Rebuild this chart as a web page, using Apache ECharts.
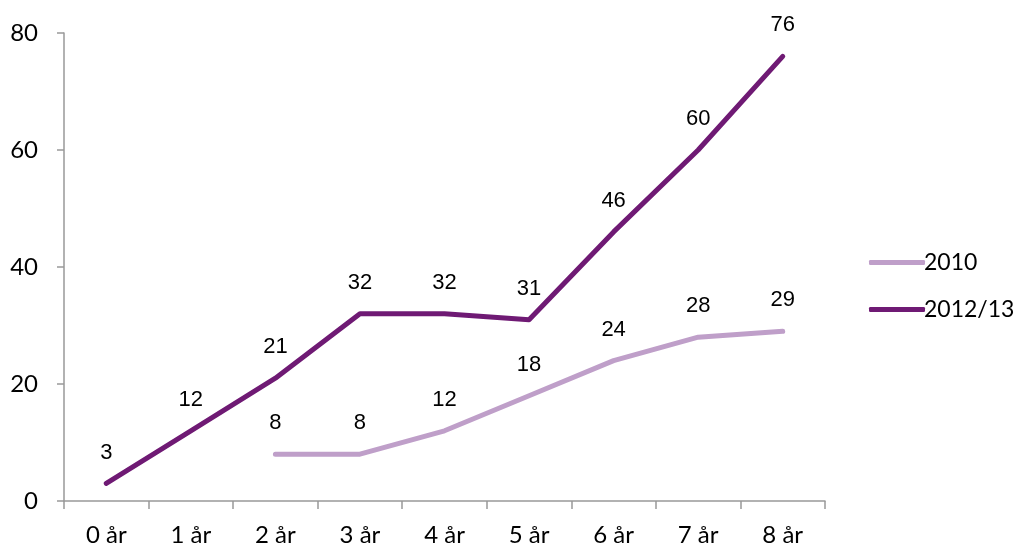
<!DOCTYPE html>
<html><head><meta charset="utf-8">
<script src="https://cdn.jsdelivr.net/npm/echarts@6/dist/echarts.min.js"></script>
<style>html,body{margin:0;padding:0;background:#fff}#c{width:1018px;height:547px}</style>
</head><body><div id="c"></div>
<script>
const categories = ['0 år','1 år','2 år','3 år','4 år','5 år','6 år','7 år','8 år'];
const s2010 = [null, null, 8, 8, 12, 18, 24, 28, 29];
const s2012 = [3, 12, 21, 32, 32, 31, 46, 60, 76];
const seriesNames = ['2010', '2012/13'];
const axisFont = 'Lato, "Open Sans", sans-serif';
const chart = echarts.init(document.getElementById('c'));
const lbl = {show:true, position:'top', distance:20, color:'#000', fontSize:22, fontFamily:'"Liberation Sans", Arial, sans-serif'};
chart.setOption({
  animation:false,
  grid:{left:64, right:193, top:33, bottom:45},
  legend:{orient:'vertical', left:864, top:246, itemWidth:56, itemHeight:5, itemGap:24,
    icon:'roundRect',
    textStyle:{fontSize:23, fontFamily:axisFont, color:'#000', padding:[0,0,0,-6]},
    data:seriesNames},
  xAxis:{type:'category', data:categories, boundaryGap:true,
    axisLine:{lineStyle:{color:'#999', width:1.5}},
    axisTick:{show:true, length:8, lineStyle:{color:'#999', width:1.5}},
    axisLabel:{fontSize:24, fontFamily:axisFont, color:'#000', margin:22}},
  yAxis:{type:'value', min:0, max:80, interval:20,
    axisLine:{show:true, lineStyle:{color:'#999', width:1.5}},
    axisTick:{show:true, length:7, lineStyle:{color:'#999', width:1.5}},
    splitLine:{show:false},
    axisLabel:{fontSize:24, fontFamily:axisFont, color:'#000', margin:26}},
  series:[
    {name:seriesNames[0], type:'line', data:s2010, showSymbol:true, symbol:'circle', symbolSize:0.01,
      lineStyle:{width:5, color:'#BF9FC9', cap:'round', join:'round'}, itemStyle:{color:'#BF9FC9'},
      label:lbl, connectNulls:false},
    {name:seriesNames[1], type:'line', data:s2012, showSymbol:true, symbol:'circle', symbolSize:0.01,
      lineStyle:{width:5, color:'#6F1A74', cap:'round', join:'round'}, itemStyle:{color:'#6F1A74'},
      label:lbl}
  ]
});
</script></body></html>
